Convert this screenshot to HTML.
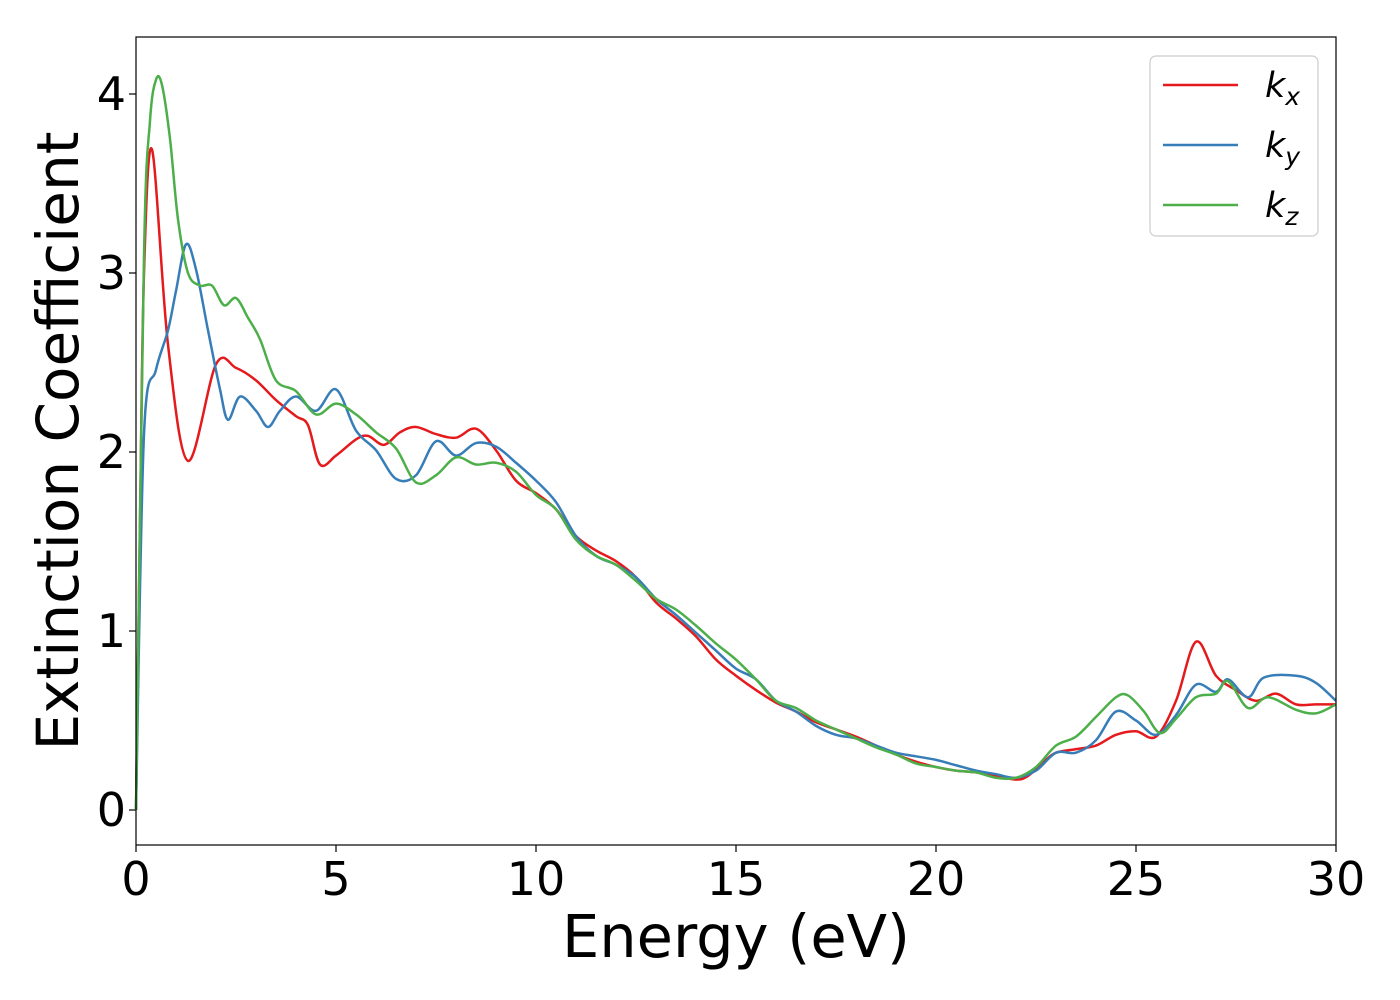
<!DOCTYPE html>
<html><head><meta charset="utf-8"><style>
body{margin:0;background:#fff;}
svg{display:block;font-family:"DejaVu Sans","Liberation Sans",sans-serif;}
</style></head><body>
<svg id="chart" width="1400" height="1000">
<g id="axes"></g>
<g id="series"></g>
<rect x="136" y="37" width="1200" height="808" fill="none" stroke="#000" stroke-width="1.2"/>
<text x="736" y="957" text-anchor="middle" font-size="59">Energy (eV)</text>
<text transform="translate(78,441) rotate(-90)" text-anchor="middle" font-size="58">Extinction Coefficient</text>
<g>
<rect x="1150" y="56" width="168" height="180" rx="6" fill="#fff" stroke="#ccc" stroke-width="1.2"/>
<g><line x1="1163" y1="85" x2="1238" y2="85" stroke="#e41a1c" stroke-width="2.5"/><text x="1265" y="97" font-size="35" font-style="italic">k<tspan font-size="25" dy="8">x</tspan></text></g>
<g><line x1="1163" y1="145" x2="1238" y2="145" stroke="#377eb8" stroke-width="2.5"/><text x="1265" y="157" font-size="35" font-style="italic">k<tspan font-size="25" dy="8">y</tspan></text></g>
<g><line x1="1163" y1="205" x2="1238" y2="205" stroke="#4daf4a" stroke-width="2.5"/><text x="1265" y="217" font-size="35" font-style="italic">k<tspan font-size="25" dy="8">z</tspan></text></g>
</g>
</svg>
<script>
const xTicks=[0,5,10,15,20,25,30];
const yTicks=[0,1,2,3,4];
const kxE=[0,0.1,0.2,0.4,0.8,1.3,2.0,2.5,3,3.5,4,4.3,4.6,5,5.5,5.8,6.2,6.6,7,7.5,8,8.5,9,9.5,10,10.5,11,11.5,12,12.5,13,13.5,14,14.5,15,15.5,16,16.5,17,17.5,18,18.5,19,19.5,20,20.5,21,21.5,22,22.3,22.7,23,23.5,24,24.5,25,25.5,26,26.5,27,27.5,28,28.5,29,29.5,30];
const kxV=[0,1.6,3.0,3.69,2.6,1.95,2.49,2.47,2.40,2.29,2.2,2.15,1.93,1.98,2.07,2.09,2.04,2.11,2.14,2.1,2.08,2.13,2.01,1.84,1.77,1.68,1.53,1.45,1.39,1.30,1.16,1.07,0.97,0.84,0.75,0.67,0.60,0.55,0.49,0.45,0.41,0.36,0.31,0.27,0.24,0.22,0.21,0.19,0.17,0.19,0.27,0.32,0.34,0.36,0.42,0.44,0.41,0.61,0.94,0.75,0.67,0.61,0.65,0.59,0.59,0.59];
const kyE=[0,0.2,0.5,0.8,1.0,1.25,1.5,1.8,2.1,2.3,2.6,3,3.3,3.6,4,4.5,5,5.5,6,6.5,7,7.5,8,8.5,9,9.5,10,10.5,11,11.5,12,12.5,13,13.5,14,14.5,15,15.5,16,16.5,17,17.5,18,18.5,19,19.5,20,20.5,21,21.5,22,22.5,23,23.5,24,24.5,25,25.5,26,26.5,27,27.3,27.8,28.2,29,29.5,30];
const kyV=[0,2.1,2.46,2.68,2.9,3.16,3.02,2.68,2.35,2.18,2.31,2.23,2.14,2.23,2.31,2.23,2.35,2.12,2.01,1.85,1.87,2.06,1.98,2.05,2.03,1.94,1.84,1.72,1.53,1.42,1.37,1.30,1.18,1.09,0.99,0.89,0.79,0.73,0.61,0.55,0.47,0.42,0.40,0.36,0.32,0.30,0.28,0.25,0.22,0.20,0.18,0.22,0.32,0.32,0.39,0.55,0.50,0.42,0.53,0.70,0.66,0.73,0.63,0.74,0.75,0.71,0.61];
const kzE=[0,0.2,0.35,0.5,0.65,0.85,1.05,1.3,1.6,1.9,2.2,2.5,2.8,3.1,3.5,4,4.5,5,5.5,6,6.5,7,7.5,8,8.5,9,9.5,10,10.5,11,11.5,12,12.5,13,13.5,14,14.5,15,15.5,16,16.5,17,17.5,18,18.5,19,19.5,20,20.5,21,21.5,22,22.5,23,23.5,24,24.5,24.8,25.2,25.6,26,26.5,27,27.3,27.8,28.3,29,29.5,30];
const kzV=[0,3.1,3.85,4.08,4.05,3.75,3.3,3.0,2.93,2.93,2.82,2.86,2.75,2.63,2.40,2.34,2.21,2.27,2.21,2.11,2.02,1.83,1.87,1.97,1.93,1.94,1.89,1.76,1.68,1.51,1.42,1.37,1.28,1.18,1.12,1.03,0.93,0.84,0.73,0.61,0.57,0.50,0.45,0.40,0.35,0.31,0.26,0.24,0.22,0.21,0.18,0.18,0.24,0.36,0.41,0.52,0.63,0.64,0.55,0.43,0.51,0.63,0.65,0.72,0.57,0.63,0.56,0.54,0.59];
const X0=136,X1=1336,Y0=810,YU=179;
const sx=v=>X0+(v/30)*(X1-X0);
const sy=v=>Y0-v*YU;
const NS="http://www.w3.org/2000/svg";
const axes=document.getElementById('axes');
xTicks.forEach(t=>{
 const l=document.createElementNS(NS,'line');
 l.setAttribute('x1',sx(t));l.setAttribute('x2',sx(t));l.setAttribute('y1',845);l.setAttribute('y2',852);l.setAttribute('stroke','#000');l.setAttribute('stroke-width','1.2');
 
 
 axes.appendChild(l);
 const tx=document.createElementNS(NS,'text');
 tx.setAttribute('x',sx(t));tx.setAttribute('y',895);tx.setAttribute('text-anchor','middle');tx.setAttribute('font-size','46');tx.textContent=t;
 
 
 axes.appendChild(tx);
});
yTicks.forEach(t=>{
 const l=document.createElementNS(NS,'line');
 l.setAttribute('x1',129);l.setAttribute('x2',136);l.setAttribute('y1',sy(t));l.setAttribute('y2',sy(t));l.setAttribute('stroke','#000');l.setAttribute('stroke-width','1.2');
 
 
 axes.appendChild(l);
 const tx=document.createElementNS(NS,'text');
 tx.setAttribute('x',126);tx.setAttribute('y',sy(t)+16);tx.setAttribute('text-anchor','end');tx.setAttribute('font-size','46');tx.textContent=t;
 
 
 axes.appendChild(tx);
});
function path(E,V){
 const p=E.map((e,i)=>[sx(e),sy(V[i])]);
 let d='M'+p[0][0]+','+p[0][1];
 for(let i=0;i<p.length-1;i++){
  const a=p[Math.max(0,i-1)],b=p[i],c=p[i+1],e=p[Math.min(p.length-1,i+2)];
  const c1=[b[0]+(c[0]-a[0])/6,b[1]+(c[1]-a[1])/6],c2=[c[0]-(e[0]-b[0])/6,c[1]-(e[1]-b[1])/6];
  d+=` C${c1[0]},${c1[1]} ${c2[0]},${c2[1]} ${c[0]},${c[1]}`;
 }
 return d;
}
const g=document.getElementById('series');
[[kxE,kxV,'#e41a1c','line-kx'],[kyE,kyV,'#377eb8','line-ky'],[kzE,kzV,'#4daf4a','line-kz']].forEach(s=>{
 const el=document.createElementNS(NS,'path');
 el.setAttribute('d',path(s[0],s[1]));el.setAttribute('fill','none');el.setAttribute('stroke',s[2]);el.setAttribute('stroke-width','2.5');
 
 
 g.appendChild(el);
});
</script>
</body></html>
